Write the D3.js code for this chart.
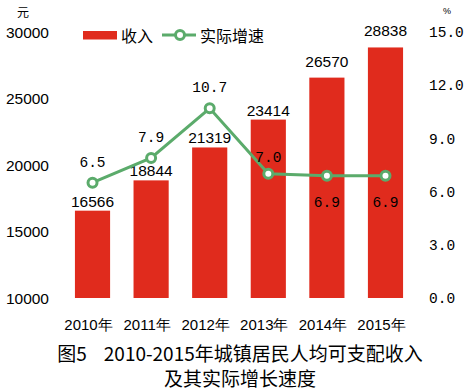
<!DOCTYPE html>
<html><head><meta charset="utf-8">
<script src="https://cdn.jsdelivr.net/npm/d3@7/dist/d3.min.js"></script>
<style>
html,body{margin:0;padding:0;background:#fff;}
svg{display:block;}
text{white-space:pre;}
</style></head>
<body>
<svg id="chart" width="472" height="392"></svg>
<script>
const years = ["2010年","2011年","2012年","2013年","2014年","2015年"];
const income = [16566, 18844, 21319, 23414, 26570, 28838];
const growth = [6.5, 7.9, 10.7, 7.0, 6.9, 6.9];
const growthLabels = ["6.5","7.9","10.7","7.0","6.9","6.9"];
const leftTicks = [10000, 15000, 20000, 25000, 30000];
const rightTicks = [0, 3, 6, 9, 12, 15];
const legendNames = ["收入", "实际增速"];
const titleLines = ["图5\u00a0\u00a0\u00a0\u00a02010-2015年城镇居民人均可支配收入", "及其实际增长速度"];

const barColor = "#e02b1d", lineColor = "#5bab6b";
const svg = d3.select("#chart");
const x = d3.scaleBand().domain(years).range([51.5, 426.5]).paddingInner(0.4).paddingOuter(0.4);
const yL = d3.scaleLinear().domain([10000, 30000]).range([298, 32]);
const yR = d3.scaleLinear().domain([0, 15]).range([298, 32]);
const sans = "'Liberation Sans', Arial, sans-serif";
const mono = "'Liberation Mono', 'DejaVu Sans Mono', monospace";
const cjk = "'Noto Sans CJK SC', sans-serif";

// left axis
svg.append("g").selectAll("text").data(leftTicks).join("text")
  .attr("x", 49).attr("y", d => yL(d)).attr("dy", "0.36em")
  .attr("text-anchor", "end").attr("font-family", sans).attr("font-size", 15.5)
  .attr("fill", "#000").text(d => d);
svg.append("text").attr("x", 23).attr("y", 17).attr("text-anchor", "middle")
  .attr("font-family", cjk).attr("font-size", 12).text("元");

// right axis
svg.append("g").selectAll("text").data(rightTicks).join("text")
  .attr("x", 429).attr("y", d => yR(d)).attr("dy", "0.36em")
  .attr("font-family", mono).attr("font-size", 14.5)
  .attr("fill", "#000").text(d => d3.format(".1f")(d));
svg.append("text").attr("x", 447).attr("y", 14).attr("text-anchor", "middle")
  .attr("font-family", sans).attr("font-size", 9).text("%");

// bars
svg.append("g").selectAll("rect").data(income).join("rect")
  .attr("x", (d, i) => x(years[i])).attr("width", x.bandwidth())
  .attr("y", d => yL(d)).attr("height", d => yL(10000) - yL(d))
  .attr("fill", barColor);
svg.append("g").selectAll("text").data(income).join("text")
  .attr("x", (d, i) => x(years[i]) + x.bandwidth() / 2)
  .attr("y", (d, i) => yL(d) - (i >= 4 ? 11 : 4))
  .attr("text-anchor", "middle").attr("font-family", sans).attr("font-size", 15.5)
  .text(d => d);

// line
const cx = (d, i) => x(years[i]) + x.bandwidth() / 2;
const line = d3.line().x((d, i) => cx(d, i)).y(d => yR(d));
svg.append("path").datum(growth).attr("d", line).attr("fill", "none")
  .attr("stroke", lineColor).attr("stroke-width", 3);
svg.append("g").selectAll("circle").data(growth).join("circle")
  .attr("cx", cx).attr("cy", d => yR(d)).attr("r", 4.5)
  .attr("fill", "#fff").attr("stroke", lineColor).attr("stroke-width", 3);
svg.append("g").selectAll("text").data(growth).join("text")
  .attr("x", cx)
  .attr("y", (d, i) => i >= 4 ? yR(d) + 31 : yR(d) - (i === 3 ? 12 : 16))
  .attr("text-anchor", "middle").attr("font-family", mono).attr("font-size", 14.5)
  .text((d, i) => growthLabels[i]);

// x axis labels
svg.append("g").selectAll("text").data(years).join("text")
  .attr("x", d => x(d) + x.bandwidth() / 2 - 4).attr("y", 330)
  .attr("text-anchor", "middle").attr("font-family", sans).attr("font-size", 15)
  .text(d => d);

// legend
const lg = svg.append("g");
lg.append("rect").attr("x", 83).attr("y", 31).attr("width", 34).attr("height", 8.5).attr("fill", barColor);
lg.append("text").attr("x", 121).attr("y", 42).attr("font-family", cjk).attr("font-size", 16).text(legendNames[0]);
lg.append("line").attr("x1", 162).attr("x2", 196).attr("y1", 35).attr("y2", 35)
  .attr("stroke", lineColor).attr("stroke-width", 3);
lg.append("circle").attr("cx", 180).attr("cy", 35).attr("r", 4.5)
  .attr("fill", "#fff").attr("stroke", lineColor).attr("stroke-width", 3);
lg.append("text").attr("x", 200).attr("y", 42).attr("font-family", cjk).attr("font-size", 16).text(legendNames[1]);

// title
svg.append("g").selectAll("text").data(titleLines).join("text")
  .attr("x", 240).attr("y", (d, i) => 361 + i * 25)
  .attr("text-anchor", "middle").attr("font-family", cjk).attr("font-size", 19)
  .attr("font-weight", 400).text(d => d);
</script>
</body></html>
